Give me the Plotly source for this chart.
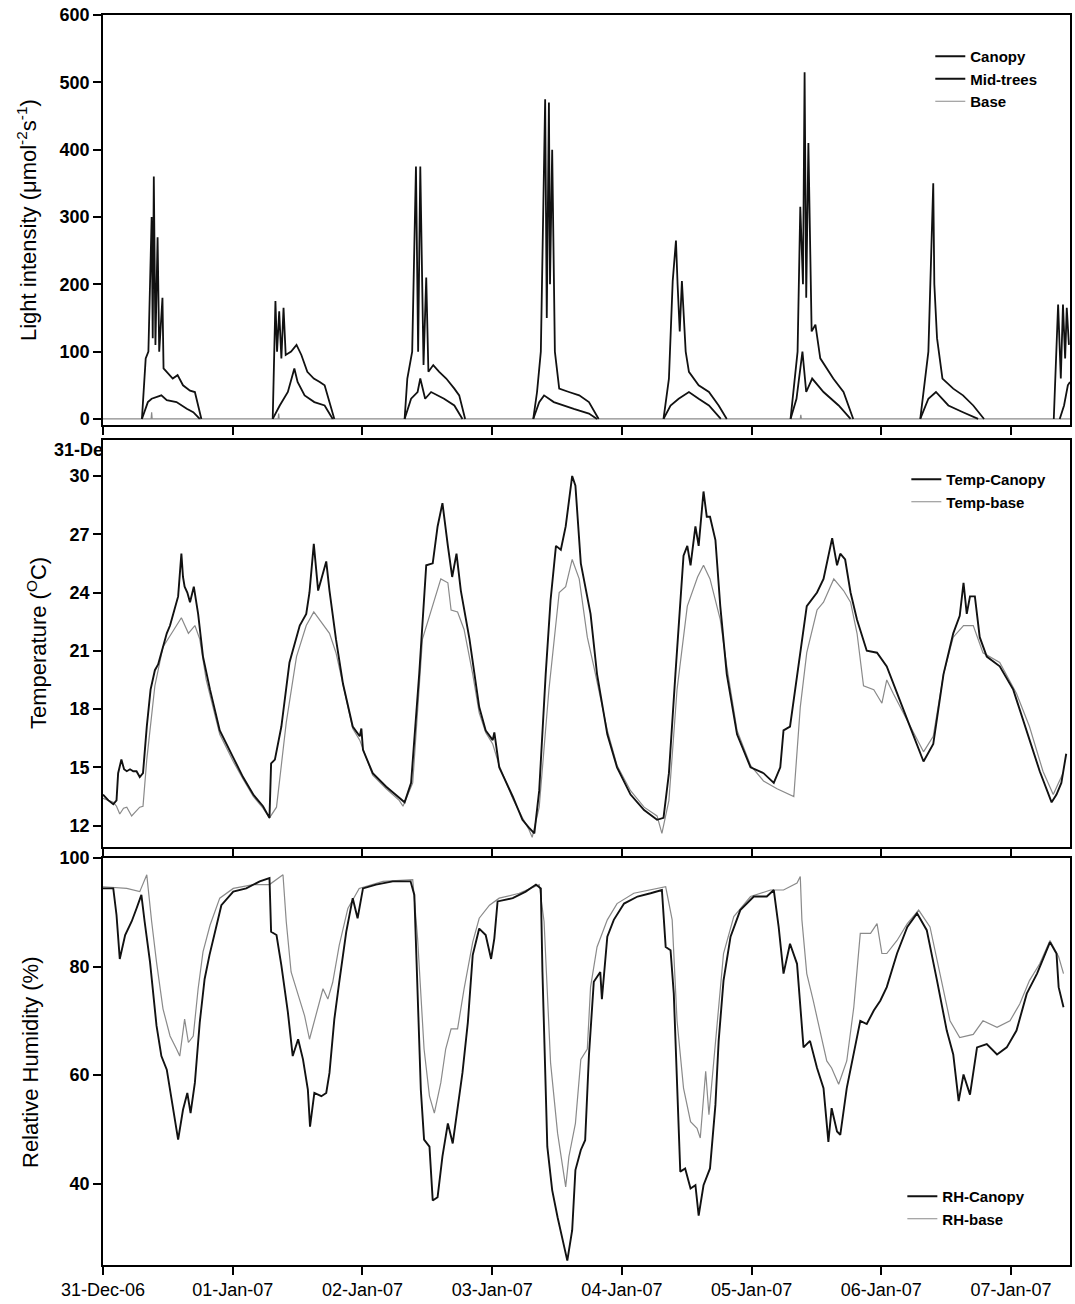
import plotly.graph_objects as go
import pandas as pd

START = pd.Timestamp("2006-12-31")
END_HOURS = 178.9
DAY_TICKS = pd.date_range("2006-12-31", "2007-01-07", freq="D")

# ---------------- Light intensity (hours since 31-Dec-06 00:00, value) ----------------
light_canopy = [
    (7.2, 0), (7.9, 90), (8.4, 100), (9.0, 300), (9.2, 120), (9.4, 360), (9.7, 110), (10.1, 270),
    (10.4, 100), (11.0, 180), (11.2, 75), (12.0, 68), (12.9, 60), (13.8, 65), (14.8, 50), (16.1, 42),
    (17.0, 40), (18.2, 0), (20.0, None),
    (31.4, 0), (31.9, 175), (32.2, 100), (32.6, 160), (33.0, 90), (33.4, 165), (33.8, 95), (34.8, 100),
    (35.8, 110), (36.7, 95), (37.8, 70), (39.0, 60), (40.1, 55), (41.0, 50), (42.8, 0), (45.0, None),
    (55.8, 0), (56.3, 60), (57.2, 100), (57.9, 375), (58.3, 100), (58.7, 375), (59.3, 80), (59.8, 210),
    (60.2, 70), (61.1, 80), (62.2, 70), (63.5, 60), (65.0, 45), (65.9, 35), (67.0, 0), (70.0, None),
    (79.6, 0), (80.3, 40), (81.0, 100), (81.8, 475), (82.1, 150), (82.5, 470), (82.7, 200), (83.1, 400),
    (83.6, 100), (84.4, 45), (86.2, 40), (88.1, 35), (89.9, 25), (91.7, 0), (95.0, None),
    (103.7, 0), (104.7, 60), (105.4, 205), (106.0, 265), (106.3, 200), (106.7, 130), (107.1, 205),
    (107.8, 100), (108.4, 70), (110.2, 50), (112.1, 40), (113.9, 20), (115.4, 0), (120.0, None),
    (127.2, 0), (128.5, 100), (129.0, 315), (129.5, 200), (129.8, 515), (130.1, 180), (130.5, 410),
    (131.1, 130), (131.8, 140), (132.7, 90), (135.1, 60), (137.0, 40), (138.8, 0), (145.0, None),
    (151.2, 0), (152.7, 100), (153.6, 350), (153.8, 200), (154.3, 120), (155.3, 60), (157.3, 45),
    (159.1, 35), (161.0, 20), (163.0, 0), (170.0, None),
    (175.9, 0), (176.3, 100), (176.7, 170), (177.2, 60), (177.6, 170), (178.0, 90), (178.3, 165), (178.7, 110),
]
light_mid = [
    (7.2, 0), (8.3, 25), (9.0, 30), (9.9, 33), (10.8, 35), (11.8, 28), (13.6, 25), (15.5, 15), (16.7, 10),
    (17.9, 0), (20.0, None),
    (31.4, 0), (32.7, 20), (34.2, 40), (35.4, 75), (36.0, 55), (37.3, 35), (39.1, 25), (41.0, 20), (42.5, 0),
    (45.0, None),
    (55.8, 0), (57.0, 30), (58.2, 40), (58.7, 60), (59.6, 30), (60.7, 40), (63.1, 30), (65.0, 20), (66.5, 0),
    (70.0, None),
    (79.6, 0), (80.7, 25), (81.6, 35), (83.4, 25), (87.1, 15), (89.9, 8), (91.4, 0), (95.0, None),
    (103.7, 0), (105.0, 20), (106.5, 30), (108.4, 40), (110.2, 30), (112.1, 20), (114.3, 0), (120.0, None),
    (127.2, 0), (128.3, 30), (129.4, 100), (130.1, 40), (131.2, 60), (133.3, 40), (136.1, 20), (138.3, 0),
    (145.0, None),
    (151.2, 0), (152.7, 30), (154.1, 40), (156.4, 20), (159.1, 10), (161.9, 0), (170.0, None),
    (177.0, 0), (177.8, 20), (178.5, 50), (178.9, 55),
]
light_base = [
    (0.0, 0), (8.9, 0), (9.0, 10), (9.1, 0), (32.4, 0), (32.5, 8), (32.6, 0),
    (129.0, 0), (129.1, 6), (129.2, 0), (178.9, 0),
]

# ---------------- Temperature (°C) ----------------
temp_canopy = [
    (0.0, 13.6), (1.0, 13.3), (1.9, 13.1), (2.5, 13.3), (2.8, 14.7), (3.4, 15.4), (3.9, 14.9), (4.4, 14.8),
    (5.0, 14.9), (5.6, 14.8), (6.2, 14.8), (6.8, 14.5), (7.4, 14.7), (8.1, 17.1), (8.8, 19.0), (9.6, 20.0),
    (10.2, 20.3), (10.8, 20.9), (11.8, 21.9), (12.4, 22.3), (13.0, 22.9), (13.9, 23.8), (14.5, 26.0),
    (14.8, 24.8), (15.1, 24.3), (15.6, 24.0), (16.1, 23.5), (16.8, 24.3), (17.6, 22.9), (18.5, 20.7),
    (19.8, 19.0), (21.6, 16.9), (24.1, 15.5), (25.9, 14.5), (27.8, 13.6), (29.6, 13.0), (30.8, 12.4),
    (31.1, 15.2), (31.8, 15.4), (33.0, 17.1), (34.5, 20.4), (35.8, 21.7), (36.4, 22.3), (37.6, 22.9),
    (38.2, 24.0), (39.0, 26.5), (39.8, 24.1), (40.4, 24.7), (41.3, 25.6), (41.9, 24.1), (43.1, 21.6),
    (44.4, 19.3), (46.2, 17.1), (47.5, 16.6), (47.8, 17.0), (48.1, 15.9), (49.9, 14.7), (52.4, 14.0),
    (54.8, 13.4), (55.8, 13.2), (57.0, 14.2), (58.5, 19.8), (59.8, 25.4), (61.0, 25.5), (61.9, 27.4),
    (62.8, 28.6), (63.8, 26.4), (64.6, 24.8), (65.4, 26.0), (66.2, 24.1), (67.8, 21.6), (69.6, 18.1),
    (70.8, 16.9), (72.1, 16.4), (72.4, 16.8), (73.3, 15.0), (75.8, 13.5), (77.6, 12.3), (78.8, 11.9),
    (79.8, 11.6), (80.7, 13.8), (81.9, 19.8), (82.8, 23.6), (83.8, 26.4), (84.7, 26.2), (85.6, 27.4),
    (86.8, 30.0), (87.4, 29.5), (88.4, 25.5), (89.3, 24.1), (90.2, 22.9), (91.4, 19.8), (93.3, 16.7),
    (95.1, 15.0), (97.6, 13.6), (100.1, 12.8), (102.5, 12.3), (103.7, 12.4), (104.7, 14.7), (105.9, 19.8),
    (107.4, 25.9), (108.1, 26.4), (108.7, 25.4), (109.6, 27.4), (110.2, 26.4), (111.1, 29.2), (111.7, 27.9),
    (112.3, 27.9), (113.3, 26.7), (114.2, 23.3), (115.4, 19.8), (117.3, 16.7), (119.8, 15.0), (122.2, 14.7),
    (124.1, 14.2), (125.3, 15.0), (125.9, 16.9), (127.1, 17.1), (128.4, 19.8), (130.2, 23.3), (132.1, 24.0),
    (133.3, 24.7), (134.9, 26.8), (135.8, 25.4), (136.4, 26.0), (137.3, 25.7), (138.3, 24.0), (139.5, 22.6),
    (141.3, 21.0), (143.2, 20.9), (145.0, 20.2), (146.9, 18.8), (149.3, 17.1), (151.8, 15.3), (153.6, 16.2),
    (155.5, 19.8), (157.3, 21.9), (158.5, 22.8), (159.2, 24.5), (159.8, 22.9), (160.4, 23.8), (161.3, 23.8),
    (162.2, 21.7), (163.5, 20.7), (165.9, 20.2), (168.4, 19.0), (170.8, 16.9), (173.3, 14.8), (175.5, 13.2),
    (176.4, 13.6), (177.3, 14.2), (178.2, 15.7),
]
temp_base = [
    (0.0, 13.4), (1.9, 13.2), (2.5, 13.0), (3.1, 12.6), (3.8, 12.9), (4.4, 12.95), (5.3, 12.5), (6.2, 12.8),
    (6.8, 12.95), (7.4, 13.0), (8.1, 15.4), (9.6, 19.2), (11.1, 21.2), (12.7, 21.9), (14.5, 22.7),
    (15.8, 21.9), (17.0, 22.3), (17.9, 21.6), (19.1, 19.5), (21.6, 16.7), (24.1, 15.3), (25.9, 14.4),
    (27.8, 13.5), (29.6, 12.9), (30.8, 12.4), (32.1, 12.95), (33.9, 17.3), (35.8, 20.7), (37.6, 22.3),
    (39.0, 23.0), (40.1, 22.6), (41.9, 21.9), (43.1, 20.9), (44.4, 19.2), (46.2, 17.0), (47.5, 16.4),
    (49.9, 14.6), (52.4, 13.9), (54.8, 13.3), (55.5, 13.0), (57.3, 14.2), (59.1, 21.6), (60.4, 22.8),
    (62.5, 24.7), (63.8, 24.5), (64.4, 23.1), (65.6, 23.0), (66.8, 22.1), (68.4, 19.8), (69.6, 17.8),
    (70.8, 16.8), (72.1, 16.2), (73.3, 15.1), (75.8, 13.4), (77.6, 12.4), (78.8, 11.8), (79.4, 11.4),
    (80.7, 12.95), (82.5, 19.0), (84.4, 24.0), (85.6, 24.3), (86.8, 25.7), (88.1, 24.7), (89.6, 21.7),
    (90.8, 20.2), (93.3, 16.9), (95.1, 15.1), (97.6, 13.8), (100.1, 12.95), (102.5, 12.5), (103.4, 11.6),
    (104.7, 13.3), (106.2, 19.0), (108.1, 23.3), (110.0, 24.8), (111.1, 25.4), (112.3, 24.7), (114.2, 22.6),
    (115.4, 20.2), (117.3, 16.9), (119.8, 15.1), (122.2, 14.3), (124.7, 13.9), (127.8, 13.5), (129.0, 18.1),
    (130.2, 20.9), (132.1, 23.1), (133.3, 23.5), (135.2, 24.7), (137.0, 24.1), (138.3, 23.5), (139.5, 21.9),
    (140.7, 19.2), (142.6, 19.0), (144.1, 18.3), (145.0, 19.5), (146.2, 18.8), (148.1, 17.8), (151.8, 15.8),
    (153.6, 16.6), (155.5, 19.8), (157.3, 21.7), (159.2, 22.3), (161.0, 22.3), (162.8, 20.9), (165.9, 20.4),
    (169.0, 18.8), (171.4, 17.1), (173.9, 14.8), (175.8, 13.6), (177.6, 14.7),
]

# ---------------- Relative humidity (%) ----------------
rh_canopy = [
    (0.0, 94.4), (1.9, 94.4), (2.5, 89.5), (3.1, 81.4), (4.1, 85.8), (5.3, 88.3), (6.2, 90.7), (7.1, 93.2),
    (7.7, 88.3), (8.7, 80.8), (9.9, 69.1), (10.8, 63.5), (11.8, 61.0), (12.7, 55.5), (13.9, 48.1),
    (14.8, 53.6), (15.6, 56.7), (16.2, 53.0), (17.0, 58.6), (17.9, 69.7), (18.8, 77.7), (19.7, 82.1),
    (20.7, 86.4), (21.9, 91.3), (24.1, 93.8), (26.5, 94.4), (29.0, 95.7), (30.8, 96.3), (31.1, 86.4),
    (32.1, 85.8), (33.0, 80.2), (34.2, 71.6), (35.1, 63.5), (36.1, 66.6), (37.0, 62.9), (37.9, 57.3),
    (38.3, 50.5), (39.1, 56.7), (40.4, 56.1), (41.3, 56.7), (41.9, 60.4), (42.8, 70.3), (43.7, 77.1),
    (45.0, 86.4), (46.2, 92.6), (47.1, 88.9), (48.1, 94.4), (50.5, 95.1), (53.6, 95.7), (56.9, 95.7),
    (57.6, 93.2), (58.2, 75.9), (58.8, 57.3), (59.4, 48.1), (60.4, 46.8), (61.0, 36.9), (61.9, 37.5),
    (62.8, 45.0), (63.8, 51.1), (64.7, 47.4), (65.6, 54.2), (66.5, 60.4), (67.5, 69.7), (68.4, 82.1),
    (69.6, 87.0), (70.8, 85.8), (71.8, 81.4), (72.4, 85.2), (73.0, 92.0), (75.8, 92.6), (78.2, 93.8),
    (80.1, 95.1), (81.0, 94.4), (81.3, 79.0), (82.2, 46.8), (83.1, 38.8), (84.1, 33.8), (85.0, 29.5),
    (85.9, 25.8), (86.8, 31.4), (87.4, 42.5), (88.4, 46.2), (89.2, 48.0), (89.9, 63.6), (90.8, 77.2),
    (92.0, 79.0), (92.3, 74.0), (93.3, 85.5), (94.5, 88.6), (96.4, 91.6), (98.9, 92.9), (101.3, 93.5),
    (103.4, 94.1), (104.1, 83.6), (105.0, 83.0), (105.6, 75.0), (106.2, 58.9), (106.8, 42.2), (107.7, 42.8),
    (108.7, 39.1), (109.6, 39.7), (110.2, 34.1), (111.1, 39.7), (112.3, 42.8), (113.3, 54.5), (113.9, 66.3),
    (114.8, 77.4), (116.1, 85.5), (117.9, 90.4), (120.4, 92.9), (122.8, 92.9), (124.1, 94.1), (125.0, 87.3),
    (125.9, 78.7), (127.1, 84.2), (128.4, 80.5), (129.6, 65.1), (130.8, 66.3), (132.1, 61.3), (133.3, 57.6),
    (134.2, 47.7), (134.8, 53.9), (135.8, 49.6), (136.4, 49.0), (137.6, 57.6), (138.9, 64.4), (140.1, 70.0),
    (141.3, 69.4), (142.6, 71.9), (143.8, 73.7), (145.0, 76.2), (146.9, 82.4), (148.8, 87.3), (150.6, 89.8),
    (152.4, 86.7), (154.3, 77.4), (156.1, 68.2), (157.3, 63.8), (158.3, 55.2), (159.2, 60.1), (160.4, 56.4),
    (161.7, 65.1), (163.5, 65.7), (165.4, 63.8), (167.2, 65.1), (169.0, 68.2), (170.9, 75.0), (172.8, 78.7),
    (175.2, 84.5), (176.4, 82.4), (176.8, 76.2), (177.7, 72.5),
]
rh_base = [
    (0.0, 94.7), (4.4, 94.4), (6.8, 93.8), (8.1, 96.9), (9.0, 88.3), (9.9, 80.8), (11.1, 72.2), (12.4, 67.2),
    (13.6, 64.8), (14.2, 63.5), (15.1, 70.3), (15.8, 66.0), (16.7, 67.2), (17.6, 75.9), (18.5, 82.7),
    (19.8, 87.6), (21.6, 92.6), (24.1, 94.4), (27.8, 95.1), (30.8, 95.1), (33.3, 96.9), (33.9, 88.3),
    (34.8, 79.0), (36.1, 74.6), (37.3, 70.9), (38.2, 66.6), (39.4, 70.9), (40.7, 75.9), (41.6, 74.0),
    (42.5, 77.1), (43.7, 83.9), (45.3, 90.7), (47.4, 94.4), (51.8, 95.7), (57.3, 96.0), (58.2, 85.2),
    (59.4, 64.8), (60.4, 56.1), (61.3, 53.0), (62.5, 58.6), (63.4, 64.8), (64.4, 68.5), (65.6, 68.5),
    (66.8, 75.9), (68.4, 84.5), (69.6, 88.9), (71.5, 91.3), (73.3, 92.6), (77.0, 93.5), (80.7, 95.1),
    (81.6, 88.3), (82.8, 62.3), (84.1, 49.3), (85.0, 43.7), (85.6, 39.4), (86.2, 45.0), (87.4, 51.1),
    (88.4, 62.9), (89.6, 64.8), (90.2, 76.2), (91.4, 83.6), (93.3, 88.6), (95.1, 91.6), (98.2, 93.5),
    (101.3, 94.1), (104.1, 94.7), (105.3, 88.6), (106.2, 70.0), (107.4, 57.6), (108.7, 51.4), (109.9, 50.2),
    (110.5, 48.4), (111.5, 60.7), (112.1, 52.7), (113.0, 62.6), (113.9, 72.5), (114.8, 82.4), (116.7, 89.2),
    (119.8, 92.9), (123.5, 94.1), (125.9, 94.1), (128.4, 95.4), (129.0, 96.6), (129.3, 88.6), (130.2, 78.7),
    (131.4, 73.7), (132.7, 68.2), (133.9, 62.6), (134.8, 61.3), (136.1, 58.3), (137.6, 62.6), (138.9, 72.5),
    (140.1, 86.1), (142.0, 86.1), (143.2, 87.9), (144.1, 82.4), (145.0, 82.4), (146.9, 84.8), (148.8, 87.9),
    (150.9, 90.4), (153.0, 87.3), (154.9, 78.1), (156.7, 70.0), (158.5, 66.9), (161.0, 67.5), (162.8, 70.0),
    (165.4, 68.8), (167.8, 70.0), (169.6, 73.1), (171.4, 77.4), (173.3, 80.5), (175.2, 84.8), (176.8, 81.8),
    (177.7, 78.7),
]

day_labels = ["31-Dec-06", "01-Jan-07", "02-Jan-07", "03-Jan-07",
              "04-Jan-07", "05-Jan-07", "06-Jan-07", "07-Jan-07"]
light_ticks = [0, 100, 200, 300, 400, 500, 600]
temp_ticks = [12, 15, 18, 21, 24, 27, 30]
rh_ticks = [40, 60, 80, 100]


def split(series):
    xs = [START + pd.Timedelta(hours=h) for h, _ in series]
    ys = [v for _, v in series]
    return xs, ys


BLACK = "#111111"
GRAY = "#8a8a8a"

fig = go.Figure()


def add(series, name, color, width, xa, ya, legend):
    xs, ys = split(series)
    fig.add_trace(go.Scatter(x=xs, y=ys, mode="lines", name=name,
                             line=dict(color=color, width=width),
                             xaxis=xa, yaxis=ya, legend=legend, connectgaps=False))


add(light_base, "Base", GRAY, 1.2, "x", "y", "legend")
add(light_mid, "Mid-trees", BLACK, 1.8, "x", "y", "legend")
add(light_canopy, "Canopy", BLACK, 1.8, "x", "y", "legend")
add(temp_base, "Temp-base", GRAY, 1.2, "x2", "y2", "legend2")
add(temp_canopy, "Temp-Canopy", BLACK, 1.9, "x2", "y2", "legend2")
add(rh_base, "RH-base", GRAY, 1.2, "x3", "y3", "legend3")
add(rh_canopy, "RH-Canopy", BLACK, 1.9, "x3", "y3", "legend3")

xrange_ = [START, START + pd.Timedelta(hours=END_HOURS)]
common_x = dict(type="date", range=xrange_, tickvals=list(DAY_TICKS), ticks="outside",
                ticklen=8, tickwidth=1.5, tickcolor="black", showline=True, linecolor="black",
                linewidth=1.5, mirror=True, showgrid=False, zeroline=False)
common_y = dict(ticks="outside", ticklen=8, tickwidth=1.5, tickcolor="black", showline=True,
                linecolor="black", linewidth=1.5, mirror=True, showgrid=False, zeroline=False,
                tickfont=dict(size=18, family="Arial", color="black", weight="bold"))

H = 1250.0
def py(px):
    return (1265 - px) / H

legend_font = dict(size=15, family="Arial", color="black", weight="bold")

fig.update_layout(
    width=1075, height=1304,
    margin=dict(l=103, r=3, t=15, b=39),
    paper_bgcolor="white", plot_bgcolor="white",
    font=dict(family="Arial", color="black"),
    xaxis=dict(common_x, anchor="y", showticklabels=False),
    xaxis2=dict(common_x, anchor="y2", showticklabels=False),
    xaxis3=dict(common_x, anchor="y3", ticktext=day_labels,
                tickfont=dict(size=18, family="Arial", color="black")),
    yaxis=dict(common_y, domain=[py(425), 1.0], range=[-9, 600], tickvals=light_ticks, anchor="x"),
    yaxis2=dict(common_y, domain=[py(847), py(440)], range=[10.9, 31.85], tickvals=temp_ticks, anchor="x2"),
    yaxis3=dict(common_y, domain=[0.0, py(858)], range=[25, 100], tickvals=rh_ticks, anchor="x3"),
    legend=dict(x=(932 - 103) / 969, y=py(40), xanchor="left", yanchor="top",
                traceorder="reversed", bgcolor="rgba(0,0,0,0)", font=legend_font),
    legend2=dict(x=(908 - 103) / 969, y=py(463), xanchor="left", yanchor="top",
                 traceorder="reversed", bgcolor="rgba(0,0,0,0)", font=legend_font),
    legend3=dict(x=(904 - 103) / 969, y=py(1180), xanchor="left", yanchor="top",
                 traceorder="reversed", bgcolor="rgba(0,0,0,0)", font=legend_font),
    showlegend=True,
)

title_font = dict(size=22, family="Arial", color="black")
fig.add_annotation(text="Light intensity (\u03bcmol<sup>-2</sup>s<sup>-1</sup>)", textangle=-90,
                   xref="paper", yref="paper", x=0, y=py(220), xanchor="center", yanchor="middle",
                   xshift=27 - 103, showarrow=False, font=title_font)
fig.add_annotation(text="Temperature (<sup>O</sup>C)", textangle=-90,
                   xref="paper", yref="paper", x=0, y=py(643), xanchor="center", yanchor="middle",
                   xshift=37 - 103, showarrow=False, font=title_font)
fig.add_annotation(text="Relative Humidity (%)", textangle=-90,
                   xref="paper", yref="paper", x=0, y=py(1062), xanchor="center", yanchor="middle",
                   xshift=30 - 103, showarrow=False, font=title_font)
fig.add_annotation(text="31-De", xref="paper", yref="paper", x=0, y=py(450),
                   xanchor="right", yanchor="middle", xshift=2, showarrow=False,
                   font=dict(size=18, family="Arial", color="black", weight="bold"))

fig.write_html("out.html", config={"displayModeBar": False},
               post_script="document.body.style.margin='0';")
